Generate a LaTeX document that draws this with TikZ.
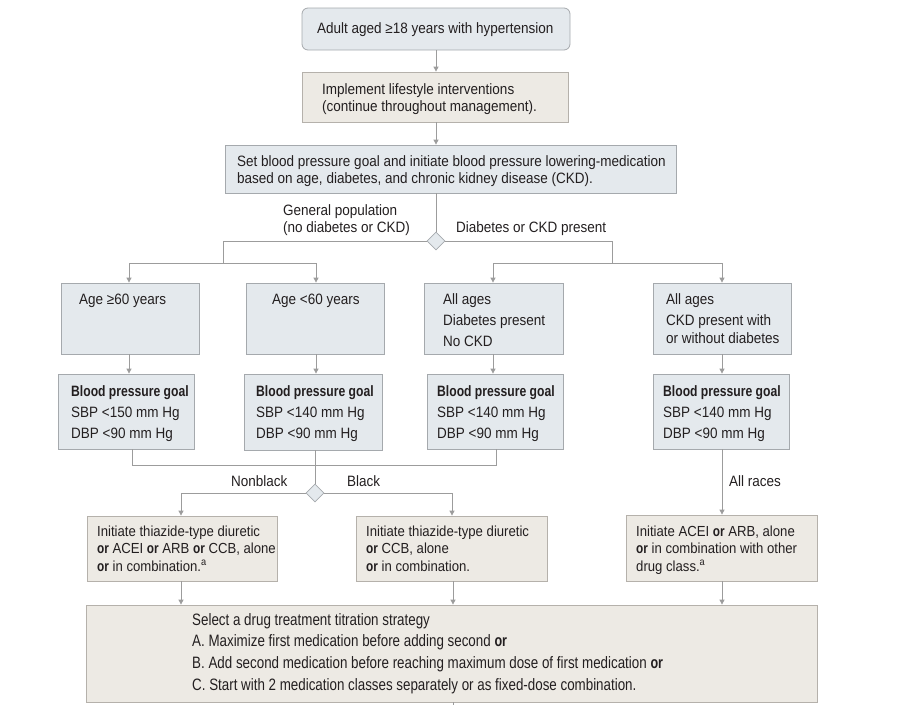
\documentclass[tikz,border=0pt]{standalone}
\usepackage{fontspec}
\setmainfont[UprightFeatures={FakeStretch=0.9}, BoldFeatures={FakeStretch=0.81}]{Liberation Sans}
\newfontfamily\condfont[UprightFeatures={FakeStretch=0.81}, BoldFeatures={FakeStretch=0.76}]{Liberation Sans}
\usetikzlibrary{arrows.meta,shapes.geometric,calc}
\definecolor{bfill}{HTML}{E4E9ED}
\definecolor{bline}{HTML}{A5A9AD}
\definecolor{tfill}{HTML}{EDEAE4}
\definecolor{tline}{HTML}{B5B1AB}
\definecolor{cline}{HTML}{9C9C9C}
\definecolor{txtc}{HTML}{231F20}
\newcommand\boxnode[6]{%
  \pgfmathsetmacro\bx{(#3+#5)/2}\pgfmathsetmacro\by{(#4+#6)/2}%
  \pgfmathsetmacro\bw{#5-#3}\pgfmathsetmacro\bh{#6-#4}%
  \node[#1, minimum width=\bw pt, minimum height=\bh pt] (#2) at (\bx,\by) {};}
\newcommand\tx[5]{\node[#1, anchor=base west] (#2) at (#3,#4) {\begin{tabular}[t]{@{}l@{}}#5\end{tabular}};}
\tikzset{
  bluebox/.style={draw=bline, fill=bfill, line width=0.8pt, inner sep=0pt},
  tanbox/.style={draw=tline, fill=tfill, line width=0.8pt, inner sep=0pt},
  dia/.style={diamond, draw=bline, fill=bfill, line width=0.8pt, inner sep=0pt, minimum width=18pt, minimum height=18pt},
  txt/.style={inner sep=0pt, text=txtc, font=\fontsize{15}{21}\selectfont},
  txtn/.style={inner sep=0pt, text=txtc, font=\fontsize{15}{17.5}\selectfont},
  txts/.style={inner sep=0pt, text=txtc, font=\fontsize{14.6}{17.5}\selectfont},
  txtc/.style={inner sep=0pt, text=txtc, font=\condfont\fontsize{16.5}{21.7}\selectfont},
  conn/.style={draw=cline, line width=0.8pt},
  arr/.style={conn, -{Triangle[width=5pt,length=5pt]}},
}
\begin{document}
\begin{tikzpicture}[x=1pt,y=-1pt]
\useasboundingbox (0,0) rectangle (900,705);
% boxes
\boxnode{bluebox, rounded corners=6pt}{top}{302}{8}{570}{50}
\boxnode{tanbox}{life}{302}{72}{568}{122}
\boxnode{bluebox}{set}{225}{145}{676}{193}
\node[dia] (dm1) at (436,241) {};
\boxnode{bluebox}{a1}{61}{283}{199}{354}
\boxnode{bluebox}{b1}{246}{283}{384}{354}
\boxnode{bluebox}{c1}{424}{283}{563}{354}
\boxnode{bluebox}{d1}{653}{283}{791}{354}
\boxnode{bluebox}{a2}{58}{374}{194}{449}
\boxnode{bluebox}{b2}{244}{374}{382}{450}
\boxnode{bluebox}{c2}{427}{374}{563}{449}
\boxnode{bluebox}{d2}{653}{374}{789}{449}
\node[dia] (dm2) at (315,493) {};
\boxnode{tanbox}{e}{87}{516}{277}{581}
\boxnode{tanbox}{f}{356}{516}{547}{581}
\boxnode{tanbox}{g}{626}{515}{817}{581}
\boxnode{tanbox}{bot}{86}{605}{817}{702}
% texts
\tx{txt}{ttop}{317}{33}{Adult aged ≥18 years with hypertension}
\tx{txtn}{tlife}{322}{94}{Implement lifestyle interventions\\(continue throughout management).}
\tx{txtn}{tset}{237}{166}{Set blood pressure goal and initiate blood pressure lowering-medication\\based on age, diabetes, and chronic kidney disease (CKD).}
\tx{txtn}{lgen}{283}{215}{General population\\(no diabetes or CKD)}
\tx{txt}{ldia}{456}{232}{Diabetes or CKD present}
\tx{txt}{ta1}{79}{304}{Age ≥60 years}
\tx{txt}{tb1}{272}{304}{Age <60 years}
\tx{txt}{tc1}{443}{304}{All ages\\Diabetes present\\No CKD}
\tx{txtn}{td1}{666}{304}{All ages\\[4pt]CKD present with\\or without diabetes}
\tx{txt}{ta2}{71}{396}{\textbf{Blood pressure goal}\\SBP <150 mm Hg\\DBP <90 mm Hg}
\tx{txt}{tb2}{256}{396}{\textbf{Blood pressure goal}\\SBP <140 mm Hg\\DBP <90 mm Hg}
\tx{txt}{tc2}{437}{396}{\textbf{Blood pressure goal}\\SBP <140 mm Hg\\DBP <90 mm Hg}
\tx{txt}{td2}{663}{396}{\textbf{Blood pressure goal}\\SBP <140 mm Hg\\DBP <90 mm Hg}
\tx{txt}{lnb}{231}{486}{Nonblack}
\tx{txt}{lb}{347}{486}{Black}
\tx{txt}{lall}{729}{486}{All races}
\tx{txts}{te}{97}{536}{Initiate thiazide-type diuretic\\\textbf{or} ACEI \textbf{or} ARB \textbf{or} CCB, alone\\\textbf{or} in combination.\textsuperscript{a}}
\tx{txts}{tf}{366}{536}{Initiate thiazide-type diuretic\\\textbf{or} CCB, alone\\\textbf{or} in combination.}
\tx{txts}{tg}{636}{536}{Initiate ACEI \textbf{or} ARB, alone\\\textbf{or} in combination with other\\drug class.\textsuperscript{a}}
\tx{txtc}{tbot}{192}{625}{Select a drug treatment titration strategy\\A. Maximize first medication before adding second \textbf{or}\\B. Add second medication before reaching maximum dose of first medication \textbf{or}\\C. Start with 2 medication classes separately or as fixed-dose combination.}
% column coordinates
\coordinate (xA) at (129,0);
\coordinate (xB) at (316,0);
\coordinate (xC) at (493,0);
\coordinate (xD) at (722,0);
\coordinate (lj) at (223,263);
\coordinate (rj) at (612,263);
\coordinate (jl) at (132,465);
\coordinate (jr) at (496,465);
\coordinate (xE) at (181,0);
\coordinate (xF) at (452,0);
\coordinate (stub) at (453,705);
% connectors
\draw[arr] (top.south -| dm1) -- (life.north -| dm1);
\draw[arr] (life.south -| dm1) -- (set.north -| dm1);
\draw[conn] (set.south -| dm1) -- (dm1.north);
\draw[conn] (dm1.west) -| (lj);
\draw[arr] (lj) -| (a1.north -| xA);
\draw[arr] (lj) -| (b1.north -| xB);
\draw[conn] (dm1.east) -| (rj);
\draw[arr] (rj) -| (c1.north -| xC);
\draw[arr] (rj) -| (d1.north -| xD);
\draw[arr] (a1.south -| xA) -- (a2.north -| xA);
\draw[arr] (b1.south -| xB) -- (b2.north -| xB);
\draw[arr] (c1.south -| xC) -- (c2.north -| xC);
\draw[arr] (d1.south -| xD) -- (d2.north -| xD);
\draw[conn] (a2.south -| jl) -- (jl) -- (jr) -- (c2.south -| jr);
\draw[conn] (b2.south -| dm2) -- (dm2.north);
\draw[arr] (dm2.west) -| (e.north -| xE);
\draw[arr] (dm2.east) -| (f.north -| xF);
\draw[arr] (d2.south -| xD) -- (g.north -| xD);
\draw[arr] (e.south -| xE) -- (bot.north -| xE);
\draw[arr] (f.south -| stub) -- (bot.north -| stub);
\draw[arr] (g.south -| xD) -- (bot.north -| xD);
\draw[conn] (bot.south -| stub) -- (stub);
\end{tikzpicture}
\end{document}
